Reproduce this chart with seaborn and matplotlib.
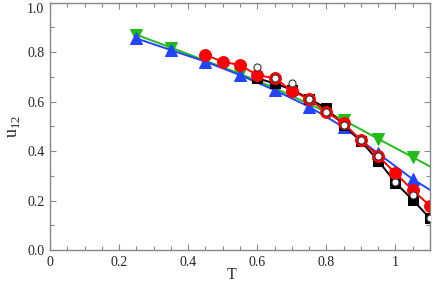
import numpy as np
import matplotlib
matplotlib.use("Agg")
import matplotlib.pyplot as plt
import seaborn as sns
from matplotlib.ticker import MultipleLocator, FuncFormatter

# data
t_green = [0.25, 0.35, 0.45, 0.55, 0.65, 0.75, 0.85, 0.95, 1.05, 1.15]
u_green = [0.870, 0.818, 0.765, 0.712, 0.655, 0.590, 0.525, 0.449, 0.375, 0.300]

t_blue = [0.25, 0.35, 0.45, 0.55, 0.65, 0.75, 0.85, 0.95, 1.05, 1.15]
u_blue = [0.855, 0.808, 0.761, 0.707, 0.646, 0.579, 0.496, 0.390, 0.286, 0.200]

t_red = [0.45, 0.50, 0.55, 0.60, 0.65, 0.70, 0.75, 0.80, 0.85, 0.90, 0.95, 1.00, 1.05, 1.10]
u_red = [0.788, 0.761, 0.747, 0.707, 0.694, 0.644, 0.609, 0.559, 0.512, 0.444, 0.380, 0.310, 0.242, 0.178]

t_black = [0.60, 0.65, 0.70, 0.75, 0.80, 0.85, 0.90, 0.95, 1.00, 1.05, 1.10]
u_black = [0.694, 0.673, 0.648, 0.612, 0.572, 0.505, 0.440, 0.361, 0.272, 0.202, 0.128]

t_open = [0.60, 0.65, 0.70, 0.75, 0.80, 0.85, 0.90, 0.95, 1.00, 1.05, 1.10]
u_open = [0.738, 0.694, 0.673, 0.609, 0.559, 0.505, 0.444, 0.380, 0.275, 0.222, 0.128]

sns.set_theme(style="ticks")
plt.rcParams['font.family'] = ['Liberation Serif', 'DejaVu Serif']
plt.rcParams['mathtext.fontset'] = 'custom'
plt.rcParams['mathtext.rm'] = 'Liberation Serif'

fig = plt.figure(figsize=(4.36, 2.82), dpi=100)
ax = fig.add_axes([0.1147, 0.1135, 0.8716, 0.8775])

green = "#22bb1a"
blue = "#2244ff"

sns.lineplot(x=t_green, y=u_green, color=green, marker="v", markersize=8,
             markeredgecolor=green, linewidth=1.4, ax=ax)
sns.lineplot(x=t_blue, y=u_blue, color=blue, marker="^", markersize=8,
             markeredgecolor=blue, linewidth=1.4, ax=ax)
sns.lineplot(x=t_black, y=u_black, color="black", marker="s", markersize=7,
             markeredgecolor="black", linewidth=1.4, ax=ax)
sns.lineplot(x=t_red, y=u_red, color="red", marker="o", markersize=8.5,
             markeredgecolor="red", linewidth=1.4, ax=ax)
sns.scatterplot(x=t_open, y=u_open, color="white", marker="o", s=26,
                edgecolor="#333333", linewidth=0.8, ax=ax, zorder=5)

ax.set_xlim(0, 1.1)
ax.set_ylim(0, 1.0)
ax.xaxis.set_major_locator(MultipleLocator(0.2))
ax.xaxis.set_minor_locator(MultipleLocator(0.05))
ax.yaxis.set_major_locator(MultipleLocator(0.2))
ax.yaxis.set_minor_locator(MultipleLocator(0.1))
ax.xaxis.set_major_formatter(FuncFormatter(lambda v, p: "{:g}".format(round(v, 2))))
ax.yaxis.set_major_formatter(FuncFormatter(lambda v, p: "{:.1f}".format(v)))

ax.tick_params(which="both", direction="in", top=True, right=True,
               color="#888888", labelsize=10, width=0.8)
ax.tick_params(which="major", length=4, pad=4)
ax.tick_params(which="minor", length=3)
for s in ax.spines.values():
    s.set_color("#888888")
    s.set_linewidth(1.0)

ax.set_xlabel("T", fontsize=11.5)
ax.xaxis.set_label_coords(0.478, -0.068)
ax.set_ylabel("u$_{\\mathregular{12}}$", fontsize=13, labelpad=4)

# top label sits just under the frame edge, as in the reference
fig.canvas.draw()
for lbl in ax.get_yticklabels():
    if lbl.get_text() == "1.0":
        lbl.set_va("top")

fig.savefig("out.png", dpi=100)
